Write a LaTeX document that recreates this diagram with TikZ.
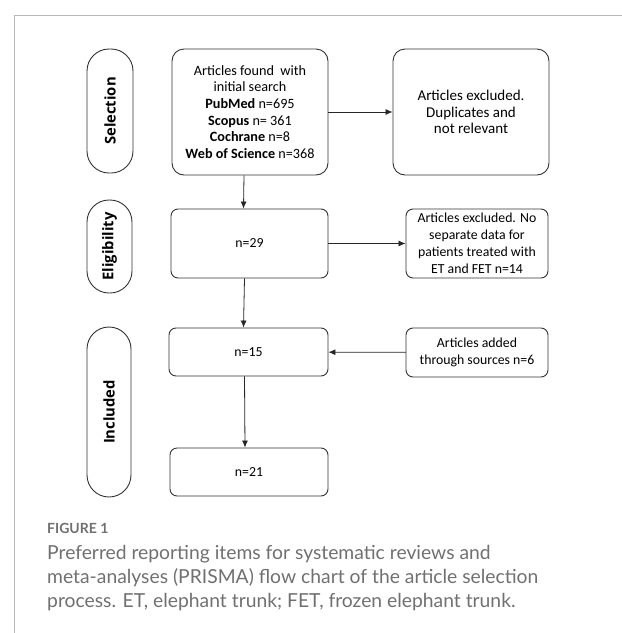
\documentclass[tikz,border=0pt]{standalone}
\usepackage{fontspec}
\setmainfont{Carlito}
\newfontfamily\phasefont{Open Sans}
\newfontfamily\capfont{Lato}
\usepackage{tikz}
\usetikzlibrary{arrows.meta}
\definecolor{capgray}{HTML}{707070}
\definecolor{framegray}{HTML}{B8B8B8}
\tikzstyle{phase}=[draw=black!80,line width=0.9pt,rounded corners=22pt,rotate=90,inner sep=0pt,font=\phasefont\bfseries\fontsize{14.8}{16}\selectfont]
\tikzstyle{bigbox}=[draw=black!80,line width=0.9pt,rounded corners=12pt,align=center,inner sep=0pt,font=\fontsize{14.2}{16.7}\selectfont]
\tikzstyle{nbox}=[draw=black!80,line width=0.9pt,rounded corners=7pt,align=center,inner sep=0pt,font=\fontsize{13.8}{17}\selectfont]
\tikzstyle{flow}=[-{Latex[length=7pt,width=6pt]},line width=0.8pt,black!85]
\newcommand{\tikzpicunit}{1pt}

\begin{document}
\begin{tikzpicture}[x=\tikzpicunit,y=-\tikzpicunit]
    \useasboundingbox (0,0) rectangle (622,633);
    \draw[framegray,line width=1pt] (14,633) -- (14,15) -- (622,15);

    % phases
    \node[phase,minimum width=124pt,minimum height=46pt] (PS) at (110,111)   {Selection};
    \node[phase,minimum width=93pt,minimum height=45pt]  (PE) at (109.5,246.5) {Eligibility};
    \node[phase,minimum width=170pt,minimum height=44pt] (PI) at (109,412)   {Included};

    % main column
    \node[bigbox,minimum width=156pt,minimum height=126pt] (B1) at (250,112)
        {Articles found\ \ with\\initial search\\\textbf{PubMed} n=695\\\textbf{Scopus} n= 361\\\textbf{Cochrane} n=8\\\textbf{Web of Science} n=368};
    \node[nbox,minimum width=157pt,minimum height=69pt] (B2) at (249.5,243.5) {n=29};
    \node[nbox,minimum width=159pt,minimum height=48pt] (B3) at (248.5,352)   {n=15};
    \node[nbox,minimum width=158pt,minimum height=48pt] (B4) at (249,472)     {n=21};

    % side column
    \node[bigbox,minimum width=156pt,minimum height=126pt,font=\fontsize{15}{16.7}\selectfont] (BA) at (471,112)
        {Articles excluded.\\Duplicates and\\not relevant};
    \node[nbox,minimum width=142pt,minimum height=69pt] (BB) at (477,243.5)
        {Articles excluded. No\\separate data for\\patients treated with\\ET and FET n=14};
    \node[nbox,minimum width=142pt,minimum height=49pt] (BC) at (477,352.5)
        {Articles added\\through sources n=6};

    \draw[flow] (B1) -- (BA);
    \draw[flow] ([xshift=-6pt]B1.south) -- ([xshift=-6pt]B2.north);
    \draw[flow] (B2) -- (BB);
    \draw[flow] ([xshift=-5pt]B2.south) -- ([xshift=-5pt]B3.north);
    \draw[flow] (BC) -- (B3);
    \draw[flow] ([xshift=-4pt]B3.south) -- ([xshift=-4pt]B4.north);

    % caption
    \node[anchor=west,text=capgray,font=\capfont\bfseries\fontsize{14}{16}\selectfont,inner sep=0pt] (FIG) at (47,528) {FIGURE 1};
    \node[anchor=north west,align=left,text=capgray,font=\capfont\fontsize{19.3}{24}\selectfont,inner sep=0pt] (CAP) at (47,545)
        {Preferred reporting items for systematic reviews and\\meta-analyses (PRISMA) flow chart of the article selection\\process. ET, elephant trunk; FET, frozen elephant trunk.};
\end{tikzpicture}
\end{document}
